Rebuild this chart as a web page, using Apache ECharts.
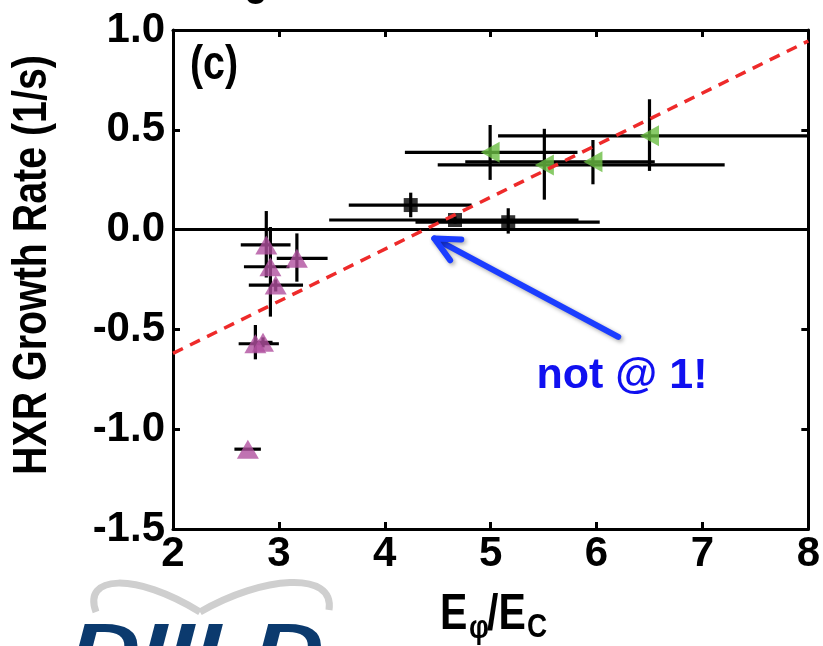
<!DOCTYPE html>
<html>
<head>
<meta charset="utf-8">
<script src="https://cdn.jsdelivr.net/npm/echarts@6/dist/echarts.min.js"></script>
<style>
  html, body { margin: 0; padding: 0; background: #ffffff; }
  #chart { width: 823px; height: 646px; }
</style>
</head>
<body>
<div id="chart"></div>
<script>
// Axis ranges and ticks
const xMin = 2, xMax = 8, xStep = 1;
const yMin = -1.5, yMax = 1.0, yStep = 0.5;

// Black squares
const squareX     = [4.245, 4.663, 5.166];
const squareY     = [0.123, 0.048, 0.037];
const squareXLow  = [3.66, 3.475, 4.29];
const squareXHigh = [4.82, 5.83, 6.03];
const squareYLow  = [0.062, 0.03, -0.02];
const squareYHigh = [0.185, 0.066, 0.107];

// Green left-pointing triangles
const greenX     = [4.995, 5.507, 5.966, 6.50];
const greenY     = [0.387, 0.324, 0.340, 0.470];
const greenXLow  = [4.19, 4.50, 4.76, 5.07];
const greenXHigh = [5.82, 7.21, 6.55, 7.99];
const greenYLow  = [0.249, 0.150, 0.227, 0.294];
const greenYHigh = [0.524, 0.505, 0.449, 0.653];

// Purple triangles
const purpleX     = [2.881, 3.17, 2.92, 2.97, 2.778, 2.85, 2.707];
const purpleY     = [-0.077, -0.144, -0.186, -0.278, -0.572, -0.565, -1.10];
const purpleXLow  = [2.64, 2.98, 2.67, 2.716, 2.62, 2.76, 2.58];
const purpleXHigh = [3.11, 3.46, 3.10, 3.228, 3.00, 2.94, 2.83];
const purpleYLow  = [-0.24, -0.261, -0.436, -0.31, -0.65, -0.59, -1.10];
const purpleYHigh = [0.093, -0.019, 0.013, -0.25, -0.478, -0.54, -1.10];

// Linear fit (dashed red)
const fitX = [2, 8];
const fitY = [-0.62, 0.945];

// Annotation arrow: tail -> head, in data units
const arrowTail = [6.205, -0.537];
const arrowHead = [4.468, -0.044];

const sansBold = "'Liberation Sans', Arial, sans-serif";
const narrow = 0.82; // horizontal squeeze for the condensed title lettering

function rows(xs, ys, xl, xh, yl, yh) {
  return xs.map((x, i) => [x, ys[i], xl[i], xh[i], yl[i], yh[i]]);
}

function errorBarItem(params, api) {
  const x = api.value(0), y = api.value(1);
  const pL = api.coord([api.value(2), y]);
  const pR = api.coord([api.value(3), y]);
  const pB = api.coord([x, api.value(4)]);
  const pT = api.coord([x, api.value(5)]);
  const style = { stroke: '#000000', lineWidth: 3.2 };
  return {
    type: 'group',
    children: [
      { type: 'line', shape: { x1: pL[0], y1: pL[1], x2: pR[0], y2: pR[1] }, style: style },
      { type: 'line', shape: { x1: pB[0], y1: pB[1], x2: pT[0], y2: pT[1] }, style: style }
    ]
  };
}

function errorSeries(data) {
  return {
    type: 'custom',
    renderItem: errorBarItem,
    data: data,
    encode: { x: [0, 2, 3], y: [1, 4, 5] },
    z: 3,
    silent: true
  };
}

function arrowItem(params, api) {
  const t = api.coord([api.value(0), api.value(1)]);
  const h = api.coord([api.value(2), api.value(3)]);
  const ang = Math.atan2(t[1] - h[1], t[0] - h[0]);
  const wing = 27, spread = 26 * Math.PI / 180;
  const w1 = [h[0] + wing * Math.cos(ang + spread), h[1] + wing * Math.sin(ang + spread)];
  const w2 = [h[0] + wing * Math.cos(ang - spread), h[1] + wing * Math.sin(ang - spread)];
  const style = {
    stroke: '#1b3dff', lineWidth: 6, lineCap: 'round', lineJoin: 'round', fill: null,
    shadowBlur: 4, shadowColor: 'rgba(0,0,0,0.35)', shadowOffsetX: 2, shadowOffsetY: 2
  };
  return {
    type: 'group',
    children: [
      { type: 'polyline', shape: { points: [t, h] }, style: style },
      { type: 'polyline', shape: { points: [w1, h, w2] }, style: style }
    ]
  };
}

const chart = echarts.init(document.getElementById('chart'), null, { renderer: 'canvas' });

const axisTextStyle = { color: '#000', fontFamily: sansBold, fontWeight: 'bold', fontSize: 42 };

function condensedText(x, y, text, size, extra) {
  return Object.assign({
    type: 'text', x: x, y: y, scaleX: narrow, z: 10,
    style: { text: text, fill: '#000', font: 'bold ' + size + 'px ' + sansBold, textAlign: 'left', textVerticalAlign: 'middle' }
  }, extra || {});
}

const option = {
  animation: false,
  backgroundColor: '#ffffff',
  grid: { left: 173, right: 5, top: 30, bottom: 117, containLabel: false },
  xAxis: [
    {
      type: 'value', min: xMin, max: xMax, interval: xStep, position: 'bottom',
      axisLine: { show: true, onZero: false, lineStyle: { color: '#000', width: 3 } },
      axisTick: { show: true, inside: true, length: 7, lineStyle: { color: '#000', width: 3 } },
      axisLabel: Object.assign({ margin: 4, formatter: v => String(v) }, axisTextStyle),
      splitLine: { show: false }
    },
    {
      type: 'value', min: xMin, max: xMax, interval: xStep, position: 'top',
      axisLine: { show: true, onZero: false, lineStyle: { color: '#000', width: 3 } },
      axisTick: { show: true, inside: true, length: 7, lineStyle: { color: '#000', width: 3 } },
      axisLabel: { show: false },
      splitLine: { show: false }
    }
  ],
  yAxis: [
    {
      type: 'value', min: yMin, max: yMax, interval: yStep, position: 'left',
      axisLine: { show: true, onZero: false, lineStyle: { color: '#000', width: 3 } },
      axisTick: { show: true, inside: true, length: 7, lineStyle: { color: '#000', width: 3 } },
      axisLabel: Object.assign({ margin: 8, formatter: v => v.toFixed(1) }, axisTextStyle),
      splitLine: { show: false }
    },
    {
      type: 'value', min: yMin, max: yMax, interval: yStep, position: 'right',
      axisLine: { show: true, onZero: false, lineStyle: { color: '#000', width: 3 } },
      axisTick: { show: true, inside: true, length: 7, lineStyle: { color: '#000', width: 3 } },
      axisLabel: { show: false },
      splitLine: { show: false }
    }
  ],
  series: [
    {
      // zero reference line
      type: 'line', data: [], z: 2, silent: true,
      markLine: {
        silent: true, symbol: 'none', animation: false,
        label: { show: false },
        lineStyle: { color: '#000', width: 3, type: 'solid' },
        data: [{ yAxis: 0 }]
      }
    },
    errorSeries(rows(squareX, squareY, squareXLow, squareXHigh, squareYLow, squareYHigh)),
    errorSeries(rows(greenX, greenY, greenXLow, greenXHigh, greenYLow, greenYHigh)),
    errorSeries(rows(purpleX, purpleY, purpleXLow, purpleXHigh, purpleYLow, purpleYHigh)),
    {
      type: 'scatter', symbol: 'rect', symbolSize: 14, z: 5, silent: true,
      itemStyle: { color: '#000000' },
      data: squareX.map((x, i) => [x, squareY[i]])
    },
    {
      type: 'scatter', symbol: 'triangle', symbolSize: [21, 19], symbolRotate: 90, z: 5, silent: true,
      itemStyle: { color: '#6abd42' },
      data: greenX.map((x, i) => [x, greenY[i]])
    },
    {
      type: 'scatter', symbol: 'triangle', symbolSize: [22, 19], z: 5, silent: true,
      itemStyle: { color: '#b0509f' },
      data: purpleX.map((x, i) => [x, purpleY[i]])
    },
    {
      type: 'line', z: 6, silent: true, showSymbol: false, symbol: 'none',
      lineStyle: { color: '#ee2a2a', width: 3.5, type: [11, 8] },
      data: fitX.map((x, i) => [x, fitY[i]])
    },
    {
      type: 'custom', z: 7, silent: true,
      renderItem: arrowItem,
      encode: { x: [0, 2], y: [1, 3] },
      data: [[arrowTail[0], arrowTail[1], arrowHead[0], arrowHead[1]]]
    }
  ],
  graphic: [
    // vertical axis title, condensed bold
    condensedText(33, 265, 'HXR Growth Rate (1/s)', 48, {
      rotation: Math.PI / 2,
      style: { text: 'HXR Growth Rate (1/s)', fill: '#000', font: 'bold 48px ' + sansBold, textAlign: 'center', textVerticalAlign: 'middle' }
    }),
    // horizontal axis title E_phi / E_C
    condensedText(440, 615, 'E', 50),
    condensedText(469, 629, 'φ', 34),
    condensedText(487, 615, '/E', 50),
    condensedText(527, 628, 'C', 34),
    // panel tag
    condensedText(190, 66, '(c)', 48),
    {
      type: 'text', x: 622, y: 376, z: 10,
      style: { text: 'not @ 1!', fill: '#1010f0', font: "bold 43px 'Liberation Sans', 'DejaVu Sans', sans-serif", textAlign: 'center', textVerticalAlign: 'middle' }
    },
    // descender of a heading above the panel
    condensedText(244, -19, 'g', 48),
    {
      // DIII-D logo: orbit swoosh and lettering
      type: 'group', z: 1,
      children: [
        { type: 'bezierCurve', shape: { x1: 96, y1: 612, cpx1: 82, cpy1: 575, cpx2: 135, cpy2: 572, x2: 200, y2: 612 },
          style: { stroke: '#cfcfcf', lineWidth: 7, fill: null } },
        { type: 'bezierCurve', shape: { x1: 200, y1: 612, cpx1: 262, cpy1: 576, cpx2: 335, cpy2: 570, x2: 329, y2: 610 },
          style: { stroke: '#cfcfcf', lineWidth: 7, fill: null } },
        { type: 'text', x: 70, y: 654, scaleX: 1.35, scaleY: 1,
          style: { text: 'DIII-D', fill: '#0b3a6e', font: "italic bold 72px 'Liberation Sans', sans-serif", textAlign: 'left', textVerticalAlign: 'middle' } }
      ]
    }
  ]
};

chart.setOption(option);
</script>
</body>
</html>
